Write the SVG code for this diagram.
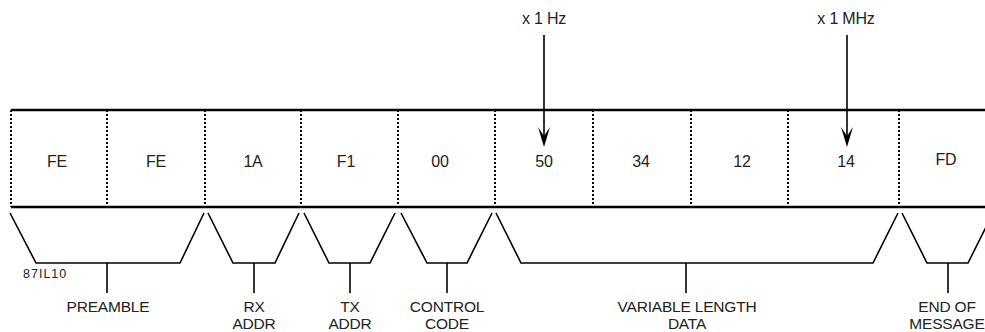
<svg xmlns="http://www.w3.org/2000/svg" width="985" height="332" viewBox="0 0 985 332">
<defs>
<style>
.t{font-family:"Liberation Sans",Arial,sans-serif;font-size:16px;fill:#222;text-anchor:middle;letter-spacing:-0.2px}
.l{font-family:"Liberation Sans",Arial,sans-serif;font-size:15.5px;fill:#222;text-anchor:middle;letter-spacing:-0.2px}
.s{font-family:"Liberation Sans",Arial,sans-serif;font-size:12.5px;fill:#222;letter-spacing:1px}
.h{stroke:#000;stroke-width:2.6;fill:none}
.d{stroke:#000;stroke-width:2;stroke-dasharray:2 2;fill:none}
.b{stroke:#000;stroke-width:1.6;fill:none}
.a{stroke:#000;stroke-width:1.6;fill:none}
.ah{fill:#000;stroke:none}
</style>
</defs>
<rect width="985" height="332" fill="#fff"/>
<g id="frame">
<line class="h" x1="11" y1="110" x2="985" y2="110"/>
<line class="h" x1="11" y1="207" x2="985" y2="207"/>
<line class="d" x1="11" y1="110" x2="11" y2="207"/>
<line class="d" x1="107" y1="110" x2="107" y2="207"/>
<line class="d" x1="205" y1="110" x2="205" y2="207"/>
<line class="d" x1="301" y1="110" x2="301" y2="207"/>
<line class="d" x1="398" y1="110" x2="398" y2="207"/>
<line class="d" x1="495" y1="110" x2="495" y2="207"/>
<line class="d" x1="593" y1="110" x2="593" y2="207"/>
<line class="d" x1="691" y1="110" x2="691" y2="207"/>
<line class="d" x1="788" y1="110" x2="788" y2="207"/>
<line class="d" x1="899" y1="110" x2="899" y2="207"/>
</g>
<g id="cell1"><text class="t" x="57" y="167">FE</text></g>
<g id="cell2"><text class="t" x="156" y="167">FE</text></g>
<g id="cell3"><text class="t" x="253" y="167">1A</text></g>
<g id="cell4"><text class="t" x="346" y="167">F1</text></g>
<g id="cell5"><text class="t" x="440" y="167">00</text></g>
<g id="cell6"><text class="t" x="544" y="167">50</text></g>
<g id="cell7"><text class="t" x="641" y="167">34</text></g>
<g id="cell8"><text class="t" x="742" y="167">12</text></g>
<g id="cell9"><text class="t" x="846" y="167">14</text></g>
<g id="cell10"><text class="t" x="946" y="165">FD</text></g>
<g id="hz"><text class="t" x="544" y="24">x 1 Hz</text></g>
<g id="mhz"><text class="t" x="846" y="24">x 1 MHz</text></g>
<g id="preamble">
<polyline class="b" points="10,213 36,263 180,263 204,213"/>
<line class="b" x1="107" y1="263" x2="107" y2="293"/>
<text class="l" x="108" y="312">PREAMBLE</text>
<text class="s" x="23" y="278">87IL10</text>
</g>
<g id="rx">
<polyline class="b" points="208,213 233,263 275,263 299,213"/>
<line class="b" x1="254" y1="263" x2="254" y2="293"/>
<text class="l" x="254" y="312">RX</text>
<text class="l" x="254" y="329">ADDR</text>
</g>
<g id="tx">
<polyline class="b" points="304,213 329,263 370,263 395,213"/>
<line class="b" x1="350" y1="263" x2="350" y2="293"/>
<text class="l" x="350" y="312">TX</text>
<text class="l" x="350" y="329">ADDR</text>
</g>
<g id="control">
<polyline class="b" points="401,213 427,263 467,263 492,213"/>
<line class="b" x1="447" y1="263" x2="447" y2="293"/>
<text class="l" x="447" y="312">CONTROL</text>
<text class="l" x="447" y="329">CODE</text>
</g>
<g id="data">
<polyline class="b" points="496,213 521,263 873,263 898,213"/>
<line class="b" x1="686" y1="263" x2="686" y2="293"/>
<text class="l" x="687" y="312">VARIABLE LENGTH</text>
<text class="l" x="687" y="329">DATA</text>
</g>
<g id="eom">
<polyline class="b" points="902,213 927,263 968,263 993,213"/>
<line class="b" x1="948" y1="263" x2="948" y2="293"/>
<text class="l" x="947" y="312">END OF</text>
<text class="l" x="947" y="329">MESSAGE</text>
</g>
<g id="connectors">
<line class="a" x1="544" y1="35" x2="544" y2="138"/>
<path class="ah" d="M538,127 L544,147 L550,127 L544,136 Z"/>
<line class="a" x1="847" y1="35" x2="847" y2="138"/>
<path class="ah" d="M841,127 L847,147 L853,127 L847,136 Z"/>
</g>
</svg>
